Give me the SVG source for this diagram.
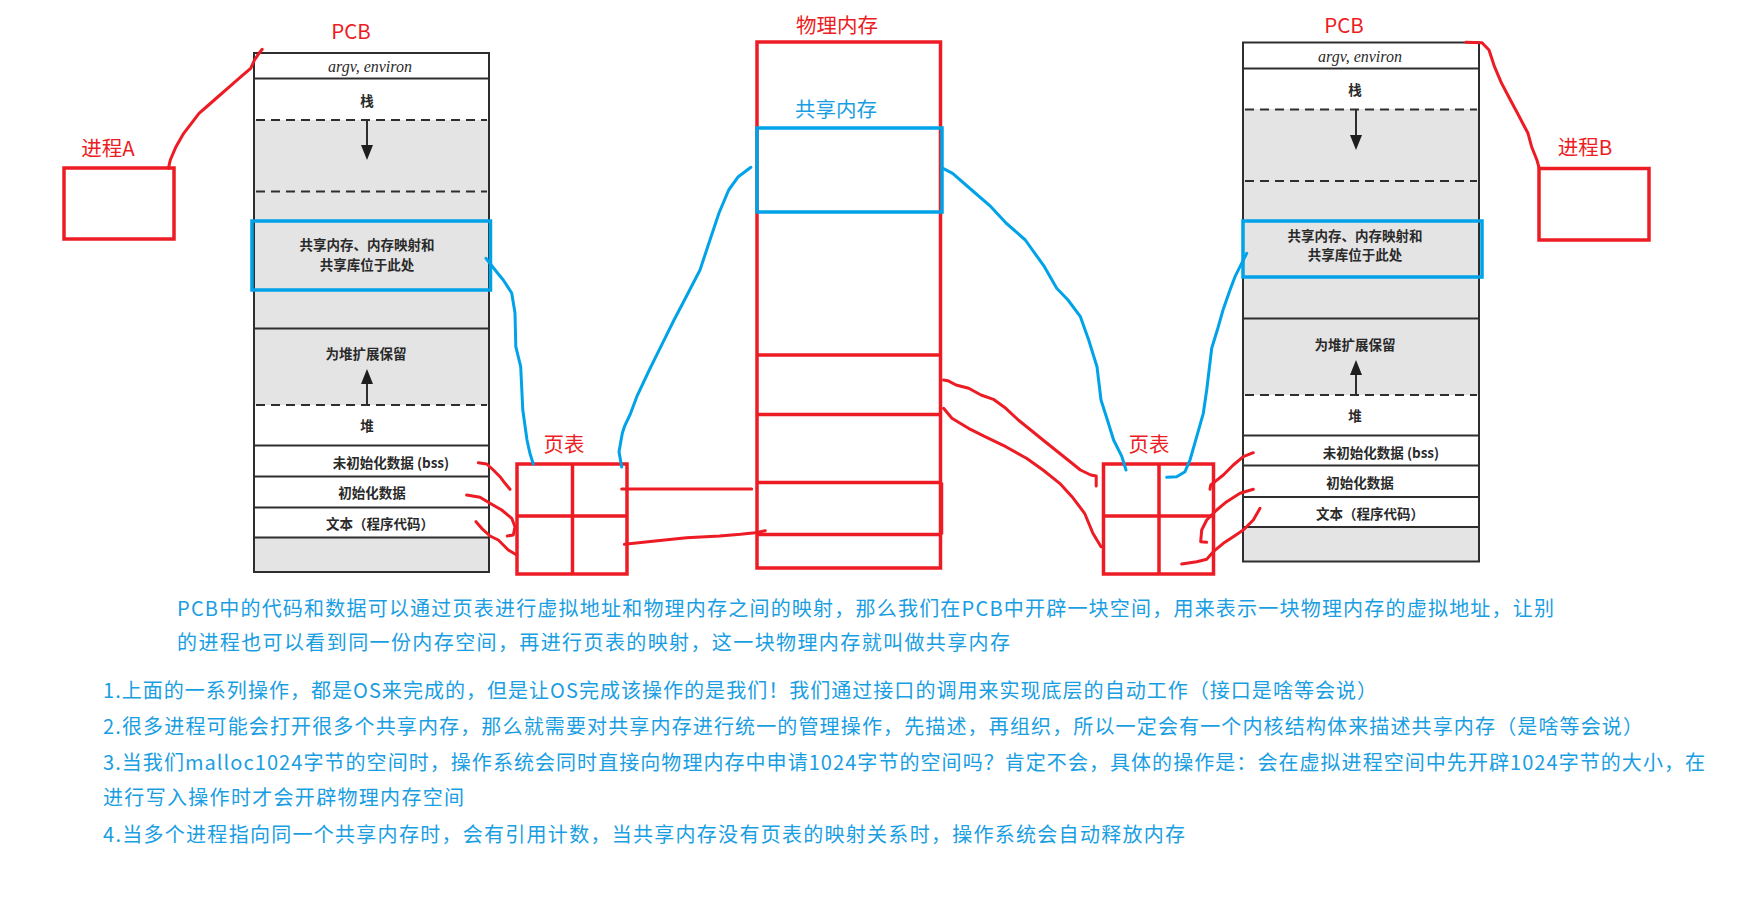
<svg xmlns="http://www.w3.org/2000/svg" width="1753" height="920" viewBox="0 0 1753 920">
<defs>
<style>
.red{stroke:#ed1c24;fill:none;stroke-width:3;stroke-linejoin:round;stroke-linecap:round}
.blue{stroke:#00a2e8;fill:none;stroke-width:3;stroke-linejoin:round;stroke-linecap:round}
.box{stroke:#ed1c24;fill:none;stroke-width:3.5}
.bbox{stroke:#00a2e8;fill:none;stroke-width:3.5}
.pcb{stroke:#2e2e2e;stroke-width:2;fill:none}
.ln{stroke:#2e2e2e;stroke-width:2}
.dash{stroke:#2e2e2e;stroke-width:2;stroke-dasharray:9 6}
.gray{fill:#e4e4e4}
.t{font-family:"Noto Sans CJK SC",sans-serif;font-weight:bold;font-size:13.5px;fill:#2a2a2a;text-anchor:middle;dominant-baseline:central}
.it{font-family:"Liberation Serif",serif;font-style:italic;font-size:16px;fill:#2a2a2a;text-anchor:middle;dominant-baseline:central}
.lr{font-family:"Noto Sans CJK SC",sans-serif;font-size:20.5px;fill:#ed1c24;text-anchor:middle;dominant-baseline:central}
.lb{font-family:"Noto Sans CJK SC",sans-serif;font-size:20.5px;fill:#1a9ee2;text-anchor:middle;dominant-baseline:central}
.d{font-family:"Noto Sans CJK SC",sans-serif;font-size:20px;fill:#1a9ee2;dominant-baseline:central}
.ah{fill:#1e1e1e}
</style>
</defs>
<rect width="1753" height="920" fill="#ffffff"/>

<g id="procA">
<rect class="box" x="64" y="168" width="110" height="71"/>
<text class="lr" x="108" y="146.5">进程A</text>
</g>

<g id="pcbA">
<text class="lr" x="351" y="30">PCB</text>
<rect class="gray" x="254" y="120" width="235" height="285"/>
<rect class="gray" x="254" y="537" width="235" height="35"/>
<rect class="pcb" x="254" y="53" width="235" height="519"/>
<line class="ln" x1="254" y1="78.5" x2="489" y2="78.5"/>
<line class="dash" x1="256" y1="120" x2="487" y2="120"/>
<line class="dash" x1="256" y1="191.5" x2="487" y2="191.5"/>
<line class="ln" x1="254" y1="328.5" x2="489" y2="328.5"/>
<line class="dash" x1="256" y1="405" x2="487" y2="405"/>
<line class="ln" x1="254" y1="445.5" x2="489" y2="445.5"/>
<line class="ln" x1="254" y1="476.5" x2="489" y2="476.5"/>
<line class="ln" x1="254" y1="507.5" x2="489" y2="507.5"/>
<line class="ln" x1="254" y1="537.5" x2="489" y2="537.5"/>
<text class="it" x="370" y="66">argv, environ</text>
<text class="t" x="367" y="100">栈</text>
<line class="ln" x1="367" y1="120" x2="367" y2="148"/>
<polygon class="ah" points="361,145 373,145 367,160"/>
<rect class="bbox" x="252" y="221" width="238.5" height="69"/>
<text class="t" x="367" y="244">共享内存、内存映射和</text>
<text class="t" x="367" y="264">共享库位于此处</text>
<text class="t" x="366" y="353">为堆扩展保留</text>
<line class="ln" x1="367" y1="405" x2="367" y2="381"/>
<polygon class="ah" points="361,384 373,384 367,369"/>
<text class="t" x="367" y="425">堆</text>
<text class="t" x="391" y="461.5">未初始化数据 (bss)</text>
<text class="t" x="372" y="492">初始化数据</text>
<text class="t" x="380" y="522.5">文本（程序代码）</text>
</g>

<g id="ptA">
<text class="lr" x="564" y="443">页表</text>
<rect class="box" x="517" y="464" width="110" height="110"/>
<line class="box" x1="572.5" y1="464" x2="572.5" y2="574"/>
<line class="box" x1="517" y1="516" x2="627" y2="516"/>
</g>

<g id="phys">
<text class="lr" x="837" y="24">物理内存</text>
<rect class="box" x="757" y="42" width="183.5" height="526"/>
<line class="box" x1="757" y1="355" x2="940.5" y2="355"/>
<line class="box" x1="757" y1="414.5" x2="940.5" y2="414.5"/>
<line class="box" x1="757" y1="482.5" x2="941.5" y2="482.5"/>
<line class="box" x1="757" y1="534.5" x2="941.5" y2="534.5"/>
<line class="box" x1="941.5" y1="482.5" x2="941.5" y2="534.5"/>
<text class="lb" x="836" y="108">共享内存</text>
<rect class="bbox" x="757" y="128" width="185" height="84"/>
</g>

<g id="ptB">
<text class="lr" x="1149" y="443">页表</text>
<rect class="box" x="1103.5" y="464" width="110" height="110"/>
<line class="box" x1="1159" y1="464" x2="1159" y2="574"/>
<line class="box" x1="1103.5" y1="516" x2="1213.5" y2="516"/>
</g>

<g id="pcbB">
<text class="lr" x="1344" y="24">PCB</text>
<rect class="gray" x="1243" y="109" width="236" height="286"/>
<rect class="gray" x="1243" y="527" width="236" height="35"/>
<rect class="pcb" x="1243" y="42.5" width="236" height="519"/>
<line class="ln" x1="1243" y1="68.5" x2="1479" y2="68.5"/>
<line class="dash" x1="1245" y1="109.5" x2="1477" y2="109.5"/>
<line class="dash" x1="1245" y1="181" x2="1477" y2="181"/>
<line class="ln" x1="1243" y1="318.5" x2="1479" y2="318.5"/>
<line class="dash" x1="1245" y1="395" x2="1477" y2="395"/>
<line class="ln" x1="1243" y1="435.5" x2="1479" y2="435.5"/>
<line class="ln" x1="1243" y1="465.5" x2="1479" y2="465.5"/>
<line class="ln" x1="1243" y1="497" x2="1479" y2="497"/>
<line class="ln" x1="1243" y1="527" x2="1479" y2="527"/>
<text class="it" x="1360" y="56">argv, environ</text>
<text class="t" x="1355" y="88.5">栈</text>
<line class="ln" x1="1356" y1="109" x2="1356" y2="137"/>
<polygon class="ah" points="1350,135 1362,135 1356,150"/>
<rect class="bbox" x="1243" y="221" width="239" height="56"/>
<text class="t" x="1355" y="234.5">共享内存、内存映射和</text>
<text class="t" x="1355" y="254">共享库位于此处</text>
<text class="t" x="1355" y="343.5">为堆扩展保留</text>
<line class="ln" x1="1356" y1="395" x2="1356" y2="372"/>
<polygon class="ah" points="1350,375 1362,375 1356,360"/>
<text class="t" x="1355" y="415">堆</text>
<text class="t" x="1381" y="452">未初始化数据 (bss)</text>
<text class="t" x="1360" y="481.5">初始化数据</text>
<text class="t" x="1370" y="513">文本（程序代码）</text>
</g>

<g id="procB">
<rect class="box" x="1539" y="168.5" width="110" height="71.5"/>
<text class="lr" x="1585" y="146">进程B</text>
</g>

<g id="connectors">
<polyline class="red" points="168.4,168.3 170.3,160 176,146.7 183.7,133.3 191.4,123.3 199,113.3 208.6,105 220,95 229.6,86.7 241,76.7 250.7,68.3 254.5,60 259.5,52.7 262.2,49.3"/>
<polyline class="red" points="1466,42.3 1482,42.7 1489,50 1494.5,66.7 1501.6,83.3 1510.4,100 1517.5,113.3 1522.7,123.3 1528,133.3 1531.6,146.7 1536.9,160 1539.3,168.3"/>
<polyline class="blue" points="486,258.3 497.5,273 503.3,280 511.7,293 515,313 515.8,346.7 520.7,366.7 522.8,410 527,440 529.9,453.3 533.3,464"/>
<polyline class="blue" points="621.7,467 619,451.7 622.3,433.3 624.4,426.7 630.6,413.3 636.8,396.7 643,383.3 649.3,370 657.5,353.3 665.8,336.7 674,320 684.5,300 700,270 707.7,246.7 719,213 728.7,190 738.3,176.7 750.9,167.3"/>
<polyline class="blue" points="943,168.3 952.6,173.3 971.7,190 990.9,206.7 1006,223 1025.3,240 1044.4,266.7 1056.7,288.3 1068,300 1080.4,316.7 1088.7,340 1097,366.7 1101,400 1107.4,420 1113.6,440 1121.9,456.7 1126,470"/>
<polyline class="blue" points="1166.7,477.3 1176.7,476.7 1185,471.7 1190,460 1196.7,436.7 1203.3,413.3 1206.7,390 1211.7,348.3 1218.3,326.7 1223,310 1230,290 1235,276.7 1240,266.7 1246.7,253.3"/>
<polyline class="red" points="478.3,462.7 486.7,464 493.3,470 500,476.7 505,483.3 510,489.3"/>
<polyline class="red" points="466.7,495 480,497.3 490,503.3 501.7,510 511.7,518.3 515,526.7 513.3,535 507.3,536"/>
<polyline class="red" points="476,521.7 481.7,528.3 490,536 498.3,540 508.3,550 516.7,555"/>
<polyline class="red" points="621.7,489 751.7,489"/>
<polyline class="red" points="624.4,544.3 657.5,540.7 686.6,537.7 719.7,536 740.5,534.3 755,532.7 765.3,530.7"/>
<polyline class="red" points="943.6,380 947.8,380.7 956,385 968.7,388.3 981,395 993.4,399.3 1005.8,408.3 1018.3,420 1030.7,430 1043,440 1055.5,450 1068,460 1080.4,470 1090.8,475 1096.2,476 1096.2,486"/>
<polyline class="red" points="943.6,408.3 951.9,418.3 968.5,428.3 985,436.7 1005.8,446.7 1026.5,458.3 1043,470 1059.7,483.3 1072,496.7 1084.6,513.3 1092.9,533.3 1101,546.7"/>
<polyline class="red" points="1253.3,452.7 1243.3,456.7 1233.3,465 1223.3,475 1215,481.7 1210.7,485 1210,489.3"/>
<polyline class="red" points="1253.3,489.3 1240,493.3 1226.7,501.7 1216.7,510 1206.7,520 1201.7,530 1200.7,541.7 1206.7,542.3"/>
<polyline class="red" points="1260,508.3 1253.3,520 1243.3,530 1233.3,536.7 1223.3,543.3 1213.3,551.7 1206.7,559.3 1196.7,561.7 1181.7,564"/>
</g>

<g id="notes">
<text class="d" x="177" y="607" textLength="1377">PCB中的代码和数据可以通过页表进行虚拟地址和物理内存之间的映射，那么我们在PCB中开辟一块空间，用来表示一块物理内存的虚拟地址，让别</text>
<text class="d" x="177" y="641" textLength="833">的进程也可以看到同一份内存空间，再进行页表的映射，这一块物理内存就叫做共享内存</text>
<text class="d" x="103" y="689" textLength="1274">1.上面的一系列操作，都是OS来完成的，但是让OS完成该操作的是我们！我们通过接口的调用来实现底层的自动工作（接口是啥等会说）</text>
<text class="d" x="103" y="725.5" textLength="1540">2.很多进程可能会打开很多个共享内存，那么就需要对共享内存进行统一的管理操作，先描述，再组织，所以一定会有一个内核结构体来描述共享内存（是啥等会说）</text>
<text class="d" x="103" y="761.5" textLength="1602">3.当我们malloc1024字节的空间时，操作系统会同时直接向物理内存中申请1024字节的空间吗？肯定不会，具体的操作是：会在虚拟进程空间中先开辟1024字节的大小，在</text>
<text class="d" x="103" y="796.5" textLength="361">进行写入操作时才会开辟物理内存空间</text>
<text class="d" x="103" y="833" textLength="1082">4.当多个进程指向同一个共享内存时，会有引用计数，当共享内存没有页表的映射关系时，操作系统会自动释放内存</text>
</g>
</svg>
